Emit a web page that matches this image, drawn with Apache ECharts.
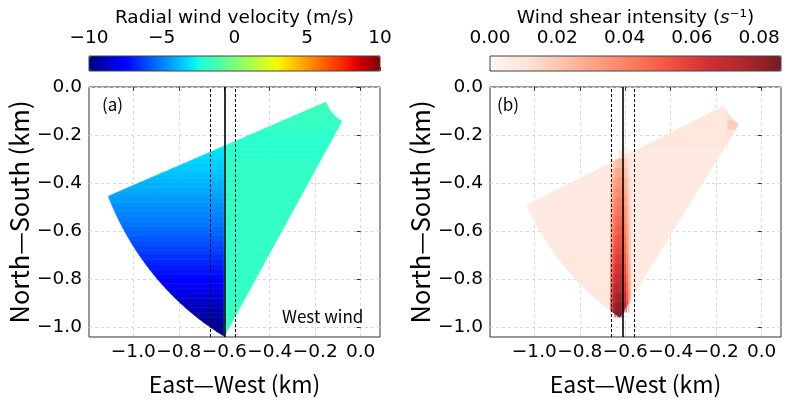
<!DOCTYPE html>
<html>
<head>
<meta charset="utf-8">
<script src="https://cdn.jsdelivr.net/npm/echarts@6/dist/echarts.min.js"></script>
<style>
html, body { margin: 0; padding: 0; background: #fff; }
#container { width: 787px; height: 402px; }
</style>
</head>
<body>
<div id="container"></div>
<script>
// tick values
var xTicks = [-1.0, -0.8, -0.6, -0.4, -0.2, 0.0];
var yTicks = [-1.0, -0.8, -0.6, -0.4, -0.2, 0.0];
var velTicks = [-10, -5, 0, 5, 10];
var shearTicks = [0, 0.02, 0.04, 0.06, 0.08];

// (a) radial velocity (m/s), one value per 0.02 km row from y=-0.06 down,
// west and east of the x=-0.6 line
var velWest = [null, null, null, null, null, null, null, null, null,
  -3.0, -3.1, -3.2, -3.35, -3.5, -3.6, -3.75, -3.9, -4.0, -4.15,
  -4.3, -4.45, -4.6, -4.75, -4.9, -5.05, -5.2, -5.4, -5.55, -5.75,
  -5.95, -6.15, -6.35, -6.55, -6.75, -6.95, -7.15, -7.4, -7.65, -7.9,
  -8.15, -8.4, -8.65, -8.9, -9.1, -9.3, -9.5, -9.7, -9.85, -9.95];
var velEast = [-1.4, -1.5, -1.6, -1.7, -1.7, -1.8, -1.9, -1.9, -2.0, -2.0,
  -2.0, -1.9, -1.9, -1.8, -1.8, -1.8, -1.8, -1.8, -1.8, -1.8,
  -1.8, -1.8, -1.8, -1.8, -1.8, -1.8, -1.8, -1.8, -1.8, -1.8,
  -1.8, -1.8, -1.8, -1.8, -1.8, -1.8, -1.8, -1.8, -1.8, -1.8,
  -1.8, -1.7, -1.7, -1.7, -1.7, -1.7, -1.7, -1.7, -1.7];
var velSplitX = -0.6;
var velLinesX = [-0.655, -0.6, -0.545];

// (b) shear intensity (1/s), one value per 0.04 km row from y=-0.06 down
var shearWest = [0.007, 0.007, 0.007, 0.007, 0.007, 0.007, 0.007, 0.007, 0.007, 0.007,
  0.007, 0.007, 0.007, 0.007, 0.007, 0.007, 0.008, 0.008, 0.008, 0.008,
  0.008, 0.008, 0.008];
var shearEast = [0.008, 0.008, 0.008, 0.008, 0.008, 0.007, 0.007, 0.007, 0.007, 0.007,
  0.007, 0.007, 0.007, 0.007, 0.007, 0.007, 0.007, 0.007, 0.007, 0.007,
  0.007, 0.007, 0.007];
var shearTipX = -0.15;
var shearTip = [0.009, 0.013, 0.018, 0.011, 0.008, 0.007, 0.007, 0.007, 0.007, 0.007,
  0.007, 0.007, 0.007, 0.007, 0.007, 0.007, 0.007, 0.007, 0.007, 0.007,
  0.007, 0.007, 0.007];
var shearBandX = [-0.665, -0.655, -0.645, -0.635, -0.625, -0.615, -0.605, -0.595, -0.585, -0.575];
var shearBand = [
  null, null, null, null, null,
  [0.006, 0.010, 0.014, 0.016, 0.016, 0.014, 0.012, 0.010, 0.007],
  [0.010, 0.016, 0.021, 0.024, 0.024, 0.021, 0.018, 0.014, 0.010],
  [0.014, 0.022, 0.027, 0.030, 0.030, 0.027, 0.023, 0.018, 0.012],
  [0.017, 0.027, 0.032, 0.035, 0.035, 0.032, 0.027, 0.021, 0.014],
  [0.020, 0.031, 0.036, 0.039, 0.039, 0.035, 0.030, 0.024, 0.016],
  [0.022, 0.034, 0.040, 0.043, 0.043, 0.038, 0.033, 0.026, 0.017],
  [0.024, 0.037, 0.043, 0.046, 0.046, 0.041, 0.036, 0.028, 0.018],
  [0.026, 0.040, 0.046, 0.049, 0.049, 0.044, 0.039, 0.030, 0.019],
  [0.028, 0.043, 0.049, 0.052, 0.052, 0.047, 0.042, 0.032, 0.020],
  [0.030, 0.046, 0.052, 0.055, 0.055, 0.050, 0.045, 0.034, 0.021],
  [0.032, 0.049, 0.055, 0.058, 0.058, 0.053, 0.048, 0.036, 0.022],
  [0.035, 0.052, 0.059, 0.062, 0.062, 0.057, 0.051, 0.039, 0.024],
  [0.038, 0.056, 0.063, 0.066, 0.066, 0.061, 0.055, 0.042, 0.026],
  [0.042, 0.060, 0.067, 0.070, 0.070, 0.065, 0.058, 0.045, 0.028],
  [0.046, 0.065, 0.072, 0.075, 0.075, 0.069, 0.062, 0.048, 0.030],
  [0.051, 0.070, 0.077, 0.080, 0.080, 0.074, 0.066, 0.052, 0.032],
  [0.056, 0.075, 0.081, 0.084, 0.084, 0.078, 0.070, 0.056, 0.035],
  [0.062, 0.079, 0.085, 0.086, 0.086, 0.081, 0.074, 0.060, 0.038]
];
var shearLinesX = [-0.664, -0.611, -0.556];

// scan sectors: radii in km, angles in degrees south of due west
var velSector = { r0: 0.165, r1: 1.2, a0: 22.3, a1: 60 };
var shearSector = { r0: 0.185, r1: 1.145, a0: 25.5, a1: 57 };
var ROW_TOP = -0.06, VEL_ROW = 0.02, SHEAR_ROW = 0.04;

var DEG = Math.PI / 180;
function sectorEdges(s, y) {
  var d = -y;
  var xl = d <= s.r1 * Math.sin(s.a0 * DEG) ? -d / Math.tan(s.a0 * DEG) : -Math.sqrt(s.r1 * s.r1 - d * d);
  var xr = d >= s.r0 * Math.sin(s.a1 * DEG) ? -d / Math.tan(s.a1 * DEG) : -Math.sqrt(s.r0 * s.r0 - d * d);
  return [xl, xr];
}
function cellPolygon(s, c0, c1, yTop, yBot) {
  var top = -s.r0 * Math.sin(s.a0 * DEG), bot = -s.r1 * Math.sin(s.a1 * DEG);
  var y0 = Math.min(yTop, top), y1 = Math.max(yBot, bot);
  if (y0 <= y1) return null;
  var left = [], right = [], w = 0, n = 6;
  for (var k = 0; k <= n; k++) {
    var y = y0 + (y1 - y0) * k / n;
    var e = sectorEdges(s, y);
    var a = Math.min(Math.max(e[0], c0), c1);
    var b = Math.min(Math.max(e[1], c0), c1);
    w = Math.max(w, b - a);
    left.push([a, y]);
    right.unshift([b, y]);
  }
  return w > 1e-6 ? left.concat(right) : null;
}

// cells: [x0, x1, yTop, yBottom, value]
var velData = [];
velEast.forEach(function (v, i) {
  var yt = ROW_TOP - i * VEL_ROW, yb = yt - VEL_ROW;
  if (velWest[i] != null) velData.push([-5, velSplitX, yt, yb, velWest[i]]);
  velData.push([velSplitX, 5, yt, yb, v]);
});
var shearData = [];
shearEast.forEach(function (v, i) {
  var yt = ROW_TOP - i * SHEAR_ROW, yb = yt - SHEAR_ROW;
  var x0 = shearBandX[0], x1 = shearBandX[shearBandX.length - 1];
  shearData.push([-5, x0, yt, yb, shearWest[i]]);
  if (shearBand[i]) {
    shearBand[i].forEach(function (b, j) {
      shearData.push([shearBandX[j], shearBandX[j + 1], yt, yb, b]);
    });
  } else {
    shearData.push([x0, x1, yt, yb, v]);
  }
  shearData.push([x1, shearTipX, yt, yb, v]);
  shearData.push([shearTipX, 5, yt, yb, shearTip[i]]);
});

// colour maps
function jet(t) {
  function seg(p) {
    for (var i = 1; i < p.length; i++) {
      if (t <= p[i][0]) return p[i - 1][1] + (p[i][1] - p[i - 1][1]) * (t - p[i - 1][0]) / (p[i][0] - p[i - 1][0]);
    }
    return p[p.length - 1][1];
  }
  var r = seg([[0, 0], [0.35, 0], [0.66, 1], [0.89, 1], [1, 0.5]]);
  var g = seg([[0, 0], [0.125, 0], [0.375, 1], [0.64, 1], [0.91, 0], [1, 0]]);
  var b = seg([[0, 0.5], [0.11, 1], [0.34, 1], [0.65, 0], [1, 0]]);
  return 'rgb(' + Math.round(r * 255) + ',' + Math.round(g * 255) + ',' + Math.round(b * 255) + ')';
}
var jetColors = [];
for (var k = 0; k <= 64; k++) jetColors.push(jet(k / 64));
var redsColors = ['#fff6f2', '#fee3d7', '#fcc2aa', '#fc9d80', '#fb795c', '#f14f41', '#d02f34', '#ae272c', '#761a25'];

function fmt1(v) {
  var r = Math.round(v * 10) / 10;
  return (r < 0 ? '\u2212' : '') + Math.abs(r).toFixed(1);
}

var TICK_FONT = 'DejaVu Sans';
var NAME_FONT = 'Noto Sans CJK SC';

function panelX(gi) {
  return {
    gridIndex: gi, type: 'value', min: -1.195, max: 0.085, splitNumber: 6,
    axisLine: { show: false },
    axisTick: { show: true, length: 4, customValues: xTicks, lineStyle: { color: '#333' } },
    axisLabel: { customValues: xTicks, formatter: fmt1, fontFamily: TICK_FONT, fontSize: 18.5, color: '#000', margin: 6 },
    splitLine: { show: true, lineStyle: { color: '#d8d8d8', type: [3, 3], width: 1 } },
    name: 'East\u2014West (km)', nameLocation: 'middle', nameGap: 36,
    nameTextStyle: { fontFamily: NAME_FONT, fontSize: 23, color: '#000' }
  };
}
function panelY(gi) {
  return {
    gridIndex: gi, type: 'value', min: -1.042, max: 0,
    axisLine: { show: false },
    axisTick: { show: true, length: 4, customValues: yTicks, lineStyle: { color: '#333' } },
    axisLabel: { customValues: yTicks, formatter: fmt1, fontFamily: TICK_FONT, fontSize: 18.5, color: '#000', margin: 7 },
    splitLine: { show: true, lineStyle: { color: '#d8d8d8', type: [3, 3], width: 1 } },
    name: 'North\u2014South (km)', nameLocation: 'middle', nameGap: 57,
    nameTextStyle: { fontFamily: NAME_FONT, fontSize: 25.5, color: '#000' }
  };
}
function barX(gi, ticks, max, fmt, name, rich) {
  return {
    gridIndex: gi, type: 'value', position: 'top', min: ticks[0], max: max,
    axisLine: { show: false },
    axisTick: { show: true, length: 4, inside: false, customValues: ticks, lineStyle: { color: '#333' } },
    axisLabel: { customValues: ticks, formatter: fmt, fontFamily: TICK_FONT, fontSize: 18.5, color: '#000', margin: 8 },
    splitLine: { show: false },
    name: name, nameLocation: 'middle', nameGap: 27,
    nameTextStyle: { fontFamily: TICK_FONT, fontSize: 18.5, color: '#000', rich: rich || {} }
  };
}
function sectorSeries(gi, sector, data) {
  return {
    type: 'custom', xAxisIndex: gi, yAxisIndex: gi, data: data, silent: true,
    encode: { x: [0, 1], y: [2, 3] },
    renderItem: function (params, api) {
      var pts = cellPolygon(sector, api.value(0), api.value(1), api.value(2), api.value(3));
      if (!pts) return;
      var c = api.visual('color');
      return {
        type: 'polygon',
        shape: { points: pts.map(function (p) { return api.coord(p); }) },
        style: { fill: c, stroke: c, lineWidth: 0.6 }
      };
    }
  };
}
function guideSeries(gi, xs) {
  return {
    type: 'line', xAxisIndex: gi, yAxisIndex: gi, data: [], silent: true,
    markLine: {
      silent: true, symbol: 'none', animation: false, label: { show: false },
      data: xs.map(function (x, i) {
        return {
          xAxis: x,
          lineStyle: i === 1 ? { color: '#000', width: 1.6, type: 'solid' } : { color: '#000', width: 1, type: [3, 2] }
        };
      })
    }
  };
}
function note(text, left, top) {
  return { text: text, left: left, top: top, padding: 0,
    textStyle: { fontFamily: NAME_FONT, fontSize: 17, fontWeight: 'normal', color: '#000' } };
}

var myChart = echarts.init(document.getElementById('container'));
var option = {
  animation: false,
  backgroundColor: '#fff',
  title: [
    note('(a)', 102, 96),
    note('(b)', 497, 96),
    note('West wind', 282, 308)
  ],
  grid: [
    { left: 89, top: 87, width: 291, height: 250, show: true, borderColor: '#333', borderWidth: 1, outerBoundsMode: 'none' },
    { left: 490, top: 87, width: 291, height: 250, show: true, borderColor: '#333', borderWidth: 1, outerBoundsMode: 'none' },
    { left: 89, top: 56, width: 291, height: 15, show: true, borderColor: '#444', borderWidth: 1, z: 6, outerBoundsMode: 'none' },
    { left: 490, top: 56, width: 291, height: 15, show: true, borderColor: '#444', borderWidth: 1, z: 6, outerBoundsMode: 'none' }
  ],
  xAxis: [
    panelX(0), panelX(1),
    barX(2, velTicks, 10, function (v) { return (v < 0 ? '\u2212' : '') + Math.abs(v); }, 'Radial wind velocity (m/s)'),
    barX(3, shearTicks, 0.0865, function (v) { return v.toFixed(2); },
      'Wind shear intensity ({i|s}\u207B\u00B9)', { i: { fontFamily: TICK_FONT, fontSize: 18.5, fontStyle: 'italic', color: '#000' } })
  ],
  yAxis: [
    panelY(0), panelY(1),
    { gridIndex: 2, type: 'value', show: false },
    { gridIndex: 3, type: 'value', show: false }
  ],
  visualMap: [
    {
      type: 'continuous', seriesIndex: 0, dimension: 4, min: -10, max: 10,
      orient: 'horizontal', left: 89, top: 56, itemWidth: 15, itemHeight: 291,
      padding: 0, calculable: false, hoverLink: false, z: 2,
      inRange: { color: jetColors }
    },
    {
      type: 'continuous', seriesIndex: 1, dimension: 4, min: 0, max: 0.0865,
      orient: 'horizontal', left: 490, top: 56, itemWidth: 15, itemHeight: 291,
      padding: 0, calculable: false, hoverLink: false, z: 2,
      inRange: { color: redsColors }
    }
  ],
  series: [
    sectorSeries(0, velSector, velData),
    sectorSeries(1, shearSector, shearData),
    guideSeries(0, velLinesX),
    guideSeries(1, shearLinesX)
  ]
};
myChart.setOption(option);
</script>
</body>
</html>
